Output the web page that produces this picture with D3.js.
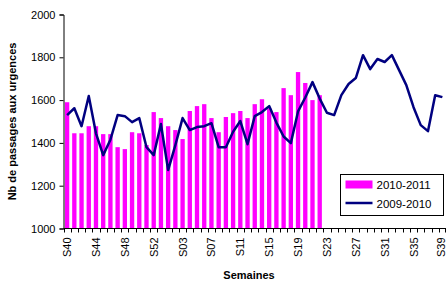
<!DOCTYPE html>
<html>
<head>
<meta charset="utf-8">
<script src="https://cdn.jsdelivr.net/npm/d3@7"></script>
<style>
  body { margin: 0; background: #fff; }
  text { font-family: "Liberation Sans", Arial, sans-serif; }
</style>
</head>
<body>
<div id="chart"></div>
<script>
// semaines S40 -> S53, puis S01 -> S39
const weeks = [];
for (let w = 40; w <= 53; w++) weeks.push("S" + w);
for (let w = 1; w <= 39; w++) weeks.push("S" + String(w).padStart(2, "0"));

const tickLabels = ["S40", "S44", "S48", "S52", "S03", "S07", "S11", "S15", "S19", "S23", "S27", "S31", "S35", "S39"];
const yTicks = [1000, 1200, 1400, 1600, 1800, 2000];

// 2010-2011 (barres, S40 -> S22)
const s1011 = [1590, 1445, 1445, 1478, 1478, 1441, 1441, 1380, 1371, 1450,
    1445, 1390, 1544, 1516, 1478, 1460, 1418, 1549, 1572, 1581,
    1516, 1450, 1521, 1539, 1549, 1516, 1581, 1604, 1562, 1544,
    1656, 1623, 1731, 1680, 1600, 1623];

// 2009-2010 (ligne, S40 -> S39)
const s0910 = [1530, 1562, 1478, 1619, 1445, 1343, 1415, 1530, 1525, 1497,
    1516, 1380, 1343, 1488, 1273, 1390, 1516, 1460, 1474, 1478,
    1492, 1380, 1380, 1452, 1502, 1394, 1525, 1544, 1572, 1495,
    1430, 1399, 1547, 1612, 1684, 1607, 1541, 1530, 1623, 1675,
    1703, 1810, 1745, 1792, 1778, 1810, 1740, 1670, 1567, 1483,
    1455, 1623, 1614];

const width = 446, height = 284;
const plotL = 63.5, plotR = 446, plotT = 14.5, plotB = 228.5;

const svg = d3.select("#chart").append("svg")
    .attr("width", width)
    .attr("height", height);

const x = d3.scaleBand().domain(weeks).range([plotL, plotR]).padding(0);
const y = d3.scaleLinear().domain([1000, 2000]).range([plotB, plotT]);

const barW = x.bandwidth() * 0.6;

// barres
svg.selectAll(".bar")
    .data(s1011)
    .enter()
    .append("rect")
    .attr("class", "bar")
    .attr("x", (d, i) => x(weeks[i]) + (x.bandwidth() - barW) / 2)
    .attr("y", d => y(d))
    .attr("width", barW)
    .attr("height", d => y(1000) - y(d))
    .attr("fill", "#ff00ff");

// ligne
const line = d3.line()
    .x((d, i) => x(weeks[i]) + x.bandwidth() / 2)
    .y(d => y(d));

svg.append("path")
    .datum(s0910)
    .attr("d", line)
    .attr("fill", "none")
    .attr("stroke", "#000080")
    .attr("stroke-width", 2.5)
    .attr("stroke-linejoin", "round");

// axe Y
const yAxis = svg.append("g")
    .attr("transform", `translate(${plotL},0)`)
    .call(d3.axisLeft(y).tickValues(yTicks).tickSize(4).tickPadding(4).tickFormat(d3.format("d")));
yAxis.select(".domain").attr("stroke", "#000");
yAxis.selectAll("text").style("font-size", "11px").attr("fill", "#000");

// axe X (graduations entre catégories)
const xAxis = svg.append("g").attr("transform", `translate(0,${plotB})`);
xAxis.append("line")
    .attr("x1", plotL).attr("x2", plotR)
    .attr("stroke", "#000");
xAxis.selectAll(".tk")
    .data(weeks.concat(["end"]))
    .enter()
    .append("line")
    .attr("x1", d => d === "end" ? plotR - 0.5 : Math.round(x(d)) + 0.5)
    .attr("x2", d => d === "end" ? plotR - 0.5 : Math.round(x(d)) + 0.5)
    .attr("y1", 0).attr("y2", 4)
    .attr("stroke", "#000");

xAxis.selectAll(".lbl")
    .data(tickLabels)
    .enter()
    .append("text")
    .attr("transform", d => `translate(${Math.min(x(d) + x.bandwidth() / 2 + 4, width - 1)},9) rotate(-90)`)
    .attr("text-anchor", "end")
    .style("font-size", "11px")
    .text(d => d);

// titres
svg.append("text")
    .attr("transform", `translate(16,${(plotT + plotB) / 2}) rotate(-90)`)
    .attr("text-anchor", "middle")
    .style("font-size", "11px")
    .style("font-weight", "bold")
    .text("Nb de passages aux urgences");

svg.append("text")
    .attr("x", 249)
    .attr("y", 279)
    .attr("text-anchor", "middle")
    .style("font-size", "11px")
    .style("font-weight", "bold")
    .text("Semaines");

// légende
const leg = svg.append("g").attr("transform", "translate(340.5,174.5)");
leg.append("rect")
    .attr("width", 103).attr("height", 41)
    .attr("fill", "#fff").attr("stroke", "#000");
leg.append("rect")
    .attr("x", 5).attr("y", 6).attr("width", 27).attr("height", 8)
    .attr("fill", "#ff00ff");
leg.append("text")
    .attr("x", 36).attr("y", 14)
    .style("font-size", "11.5px")
    .text("2010-2011");
leg.append("line")
    .attr("x1", 5).attr("x2", 32).attr("y1", 28.5).attr("y2", 28.5)
    .attr("stroke", "#000080").attr("stroke-width", 2.5);
leg.append("text")
    .attr("x", 36).attr("y", 33)
    .style("font-size", "11.5px")
    .text("2009-2010");
</script>
</body>
</html>
